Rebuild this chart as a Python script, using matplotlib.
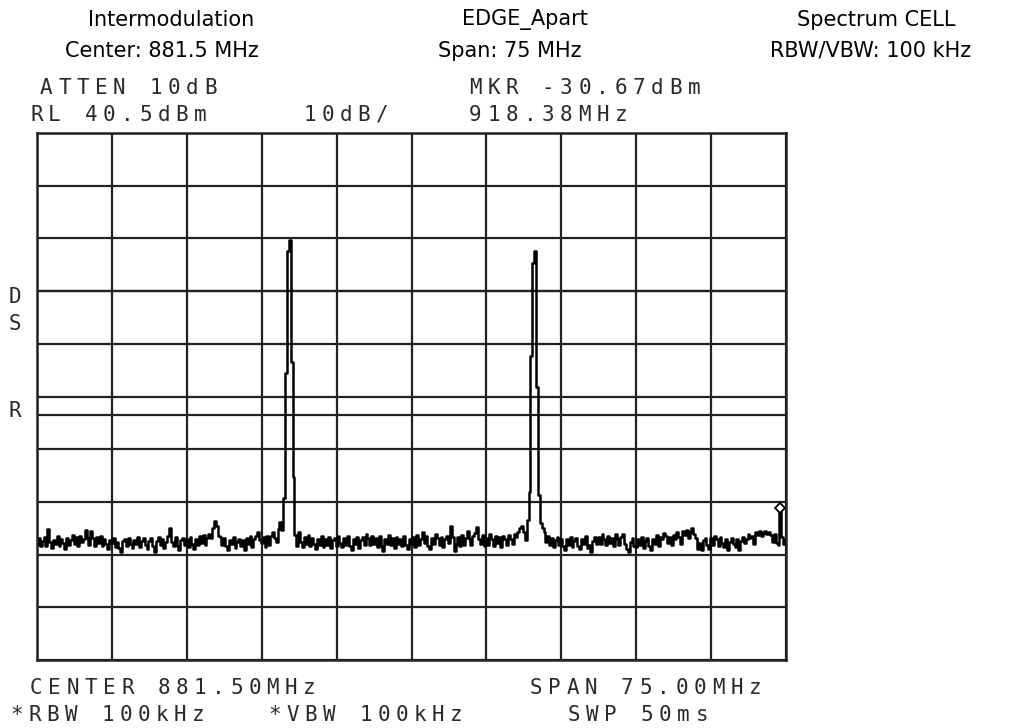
import numpy as np
import matplotlib
matplotlib.use('Agg')
import matplotlib.pyplot as plt

# analyzer settings
center_mhz = 881.5
span_mhz = 75.0
ref_level = 40.5
db_per_div = 10
d_line = 10.5
r_line = -13.0
marker_idx = 397
marker_level = -30.67

# trace, 401 points across the span (dBm)
trace = [
    -37.6, -36.4, -37.9, -36.9, -36.1, -37.8, -34.6, -37.2, -38.3, -36.7, -37.5, -36.0, -37.9, -36.5, -37.3, -38.4, -36.3, -37.6, -36.8, -35.7,
    -37.4, -36.2, -37.8, -36.0, -37.1, -36.6, -34.9, -36.3, -37.7, -35.0, -36.4, -37.9, -36.1, -37.3, -35.9, -37.8, -36.5, -37.4, -38.5, -36.7,
    -37.3, -36.4, -38.0, -37.1, -38.2, -39.1, -37.0, -36.5, -37.8, -36.3, -37.4, -38.3, -36.7, -37.5, -36.2, -38.0, -36.9, -36.4, -37.6, -38.5,
    -36.9, -36.3, -37.9, -39.1, -37.0, -36.2, -37.7, -36.6, -38.2, -37.1, -36.0, -34.4, -37.2, -37.9, -36.1, -37.8, -38.6, -36.8, -36.3, -37.6,
    -36.5, -38.0, -36.2, -37.4, -38.5, -36.6, -37.6, -36.0, -37.3, -35.8, -37.7, -36.4, -35.6, -36.3, -34.5, -33.2, -34.0, -36.0, -36.1, -37.6,
    -36.3, -37.8, -38.6, -36.7, -37.4, -36.1, -38.3, -37.1, -36.5, -37.9, -36.8, -38.7, -36.4, -37.5, -36.0, -38.1, -36.6, -36.0, -35.3, -36.7,
    -37.3, -36.2, -38.0, -36.0, -37.7, -35.9, -35.2, -36.3, -37.2, -34.6, -33.4, -34.9, -28.8, -5.0, 18.1, 20.2, -3.0, -24.8, -35.8, -37.9,
    -35.3, -37.2, -38.1, -36.1, -37.4, -35.7, -37.8, -36.3, -37.5, -38.5, -36.5, -37.6, -35.9, -38.0, -36.6, -37.7, -36.2, -38.3, -36.8, -36.4,
    -37.8, -36.0, -37.3, -38.1, -36.3, -37.6, -35.9, -37.9, -38.6, -36.6, -37.5, -36.1, -38.2, -36.8, -36.2, -37.7, -35.5, -36.4, -37.6, -35.9,
    -37.4, -36.3, -38.1, -36.0, -37.8, -38.8, -36.5, -37.5, -35.7, -37.7, -36.4, -38.2, -36.1, -37.4, -36.5, -37.9, -35.9, -37.6, -38.4, -36.6,
    -37.5, -36.2, -38.0, -35.8, -37.7, -36.5, -35.2, -37.3, -36.0, -37.8, -38.5, -36.4, -37.5, -35.6, -36.3, -37.6, -36.1, -38.1, -36.6, -35.9,
    -37.3, -34.1, -36.2, -38.9, -37.4, -36.1, -37.9, -35.7, -37.6, -36.4, -35.1, -36.6, -37.7, -36.0, -35.4, -34.2, -36.5, -37.5, -35.8, -37.8,
    -36.3, -37.6, -35.6, -36.5, -37.8, -35.9, -37.3, -36.2, -38.0, -36.0, -36.6, -37.7, -35.8, -36.5, -37.5, -35.5, -36.1, -35.3, -34.4, -34.1,
    -35.3, -36.8, -33.0, -27.6, -1.9, 15.8, 18.2, -7.7, -28.2, -33.5, -34.5, -35.3, -37.2, -36.0, -37.7, -36.3, -38.1, -36.8, -36.2, -37.6,
    -36.5, -37.9, -38.6, -36.6, -37.6, -36.1, -38.0, -36.9, -36.3, -37.8, -38.5, -36.5, -37.5, -36.0, -38.2, -37.7, -39.1, -36.9, -36.2, -37.5,
    -36.1, -37.4, -35.6, -36.5, -37.7, -35.9, -37.3, -36.3, -37.8, -35.5, -36.6, -37.6, -36.1, -35.6, -37.5, -38.4, -39.0, -37.1, -36.4, -37.9,
    -38.1, -36.6, -37.6, -36.2, -38.2, -37.0, -36.3, -37.9, -38.7, -36.5, -37.5, -35.7, -37.8, -36.1, -36.6, -35.4, -36.0, -37.3, -36.2, -37.7,
    -35.8, -36.5, -35.3, -36.1, -37.5, -35.0, -35.8, -34.9, -36.4, -35.2, -34.4, -35.5, -36.3, -38.5, -37.3, -38.6, -36.8, -36.3, -37.7, -38.4,
    -36.4, -37.6, -35.9, -36.6, -37.9, -36.2, -37.3, -38.0, -36.5, -38.6, -37.1, -36.3, -37.4, -38.1, -36.6, -38.7, -36.9, -36.1, -37.3, -36.5,
    -35.6, -36.3, -36.0, -37.5, -35.3, -35.7, -35.1, -35.9, -35.4, -35.0, -35.6, -35.3, -35.8, -37.1, -35.6, -37.3, -37.6, -30.67, -36.2, -37.5,
    -36.8,
]

titles_top = ['Intermodulation', 'EDGE_Apart', 'Spectrum CELL']
titles_bottom = ['Center: 881.5 MHz', 'Span: 75 MHz', 'RBW/VBW: 100 kHz']

W, H = 1013, 728
fig = plt.figure(figsize=(W / 100, H / 100), dpi=100)
fig.patch.set_facecolor('white')


def px(x, y):
    return x / W, 1 - y / H


# header text in the web page font
for x, t in zip([171, 525, 876], titles_top):
    fig.text(*px(x, 20), t, ha='center', va='center', fontsize=15, family='DejaVu Sans')
for x, t in zip([162, 510, 871], titles_bottom):
    fig.text(*px(x, 51), t, ha='center', va='center', fontsize=15, family='DejaVu Sans')

# instrument annotations on a fixed character grid
pitch = 18.2


def hp_text(x, y, s):
    for k, ch in enumerate(s):
        if ch == ' ':
            continue
        fig.text(*px(x + k * pitch, y), ch, ha='left', va='center',
                 fontsize=15, family='DejaVu Sans Mono', color='#2a2a2a')


hp_text(40, 88, 'ATTEN 10dB')
hp_text(30, 115, 'RL 40.5dBm')
hp_text(303, 115, '10dB/')
hp_text(469, 88, 'MKR -30.67dBm')
hp_text(469, 115, '918.38MHz')
hp_text(30, 688, 'CENTER 881.50MHz')
hp_text(530, 688, 'SPAN 75.00MHz')
hp_text(10, 715, '*RBW 100kHz')
hp_text(268, 715, '*VBW 100kHz')
hp_text(568, 715, 'SWP 50ms')
hp_text(9, 297, 'D')
hp_text(9, 324, 'S')
hp_text(9, 411, 'R')

# screen area
ax = fig.add_axes([37 / W, 1 - 660 / H, 749 / W, 527 / H])
f0 = center_mhz - span_mhz / 2
f1 = center_mhz + span_mhz / 2
bottom = ref_level - 10 * db_per_div
freq = np.linspace(f0, f1, len(trace))

ax.set_xlim(f0, f1)
ax.set_ylim(bottom, ref_level)
ax.set_xticks(np.linspace(f0, f1, 11))
ax.set_yticks(np.linspace(bottom, ref_level, 11))
ax.grid(True, color='#222222', linewidth=1.6)
ax.tick_params(length=0, labelbottom=False, labelleft=False)
for s in ax.spines.values():
    s.set_linewidth(1.8)
    s.set_color('#222222')

ax.axhline(d_line, color='#222222', linewidth=1.6)
ax.axhline(r_line, color='#222222', linewidth=1.6)

ax.plot(freq, trace, color='black', linewidth=1.8, drawstyle='steps-mid')
ax.plot(freq[marker_idx], marker_level, marker='D', markersize=5,
        markerfacecolor='white', markeredgecolor='black', markeredgewidth=1.3)

fig.savefig('out.png', dpi=100)
